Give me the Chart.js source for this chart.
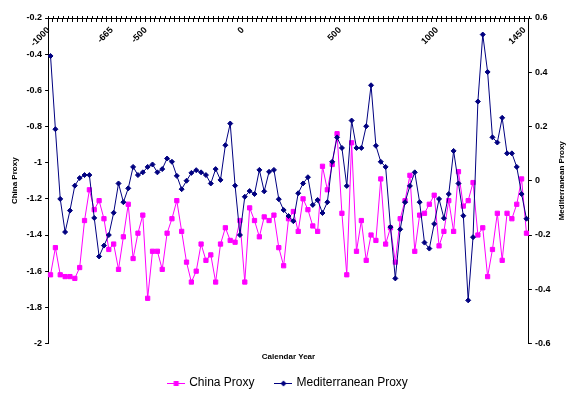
<!DOCTYPE html>
<html>
<head>
<meta charset="utf-8">
<script src="https://cdn.jsdelivr.net/npm/chart.js@4/dist/chart.umd.min.js"></script>
<style>
  body { margin: 0; background: #fff; }
</style>
</head>
<body>
<canvas id="chart" width="576" height="395"></canvas>
<script>
// calendar years of the samples (category axis)
const YEARS = [
  -1000, -975, -950, -925, -900, -875, -850, -825, -800, -775,
  -750, -725, -700, -665, -650, -625, -600, -575, -550, -525,
  -500, -475, -450, -425, -400, -375, -350, -325, -300, -275,
  -250, -225, -200, -175, -150, -125, -100, -75, -50, -25,
  0, 25, 50, 75, 100, 125, 150, 175, 200, 225,
  250, 275, 300, 325, 350, 375, 400, 425, 450, 475,
  500, 525, 550, 575, 600, 625, 650, 675, 700, 725,
  750, 775, 800, 825, 850, 875, 900, 925, 950, 975,
  1000, 1025, 1050, 1075, 1100, 1125, 1150, 1175, 1200, 1225,
  1250, 1275, 1300, 1325, 1350, 1375, 1400, 1425, 1450
];
// years that get a tick label
const SHOWN_YEARS = [-1000, -665, -500, 0, 500, 1000, 1450];

// left axis
const CHINA = [
  -1.62, -1.47, -1.62, -1.63, -1.63, -1.64, -1.58, -1.32, -1.15, -1.26,
  -1.21, -1.31, -1.48, -1.45, -1.59, -1.41, -1.23, -1.53, -1.39, -1.29,
  -1.75, -1.49, -1.49, -1.59, -1.39, -1.31, -1.21, -1.38, -1.55, -1.66,
  -1.60, -1.45, -1.54, -1.51, -1.66, -1.45, -1.36, -1.43, -1.44, -1.32,
  -1.66, -1.25, -1.32, -1.41, -1.30, -1.32, -1.29, -1.47, -1.57, -1.31,
  -1.27, -1.38, -1.20, -1.26, -1.35, -1.38, -1.02, -1.15, -1.01, -0.84,
  -1.28, -1.62, -0.89, -1.49, -1.32, -1.54, -1.40, -1.43, -1.09, -1.45,
  -1.36, -1.55, -1.31, -1.21, -1.07, -1.49, -1.29, -1.28, -1.23, -1.18,
  -1.46, -1.38, -1.21, -1.38, -1.05, -1.24, -1.21, -1.11, -1.40, -1.36,
  -1.63, -1.48, -1.28, -1.54, -1.28, -1.31, -1.23, -1.09, -1.39
];
// right axis
const MEDITERRANEAN = [
  0.46, 0.19, -0.067, -0.189, -0.11, -0.018, 0.01, 0.021, 0.021, -0.137,
  -0.279, -0.239, -0.2, -0.118, -0.01, -0.079, -0.028, 0.051, 0.021, 0.031,
  0.051, 0.06, 0.031, 0.043, 0.082, 0.07, 0.018, -0.031, 0, 0.029,
  0.039, 0.031, 0.021, -0.01, 0.043, 0.003, 0.131, 0.211, -0.018, -0.2,
  -0.059, -0.038, -0.049, 0.04, -0.039, 0.033, 0.04, -0.068, -0.108, -0.13,
  -0.149, -0.046, -0.01, 0.013, -0.089, -0.071, -0.119, -0.079, 0.07, 0.16,
  0.121, -0.019, 0.222, 0.121, 0.121, 0.201, 0.352, 0.129, 0.07, 0.051,
  -0.171, -0.36, -0.179, -0.079, -0.019, 0.031, -0.079, -0.228, -0.25, -0.159,
  -0.067, -0.138, -0.049, 0.11, -0.01, -0.129, -0.441, -0.208, 0.292, 0.539,
  0.401, 0.16, 0.141, 0.232, 0.101, 0.101, 0.051, -0.049, -0.14
];

const MAGENTA = "#ff00ff";
const NAVY = "#000080";
const FAMILY = "'Liberation Sans', Arial, sans-serif";
const tickFont = { family: FAMILY, size: 9, weight: "bold" };
const titleFont = { family: FAMILY, size: 8, weight: "bold" };

Chart.defaults.font.family = FAMILY;
Chart.defaults.color = "#000";

// legend samples: short line with the marker in the middle
function legendIcon(color, diamond) {
  const c = document.createElement("canvas");
  c.width = 18;
  c.height = 8;
  const g = c.getContext("2d");
  g.strokeStyle = color;
  g.fillStyle = color;
  g.lineWidth = 1;
  g.beginPath();
  g.moveTo(0, 4.5);
  g.lineTo(18, 4.5);
  g.stroke();
  g.beginPath();
  if (diamond) {
    g.moveTo(9, 1.5);
    g.lineTo(12, 4.5);
    g.lineTo(9, 7.5);
    g.lineTo(6, 4.5);
    g.closePath();
  } else {
    g.rect(6.5, 2, 5, 5);
  }
  g.fill();
  return c;
}
const LEGEND_ICONS = [legendIcon(MAGENTA, false), legendIcon(NAVY, true)];

// right axis title reads bottom-to-top, and the top axis ticks cross the line
const extras = {
  id: "extras",
  afterDraw(chart) {
    const ctx = chart.ctx;
    const area = chart.chartArea;
    const y1 = chart.scales.y1;
    ctx.save();
    ctx.translate(y1.right - 9, (area.top + area.bottom) / 2);
    ctx.rotate(-Math.PI / 2);
    ctx.font = "bold 8px " + FAMILY;
    ctx.fillStyle = "#000";
    ctx.textAlign = "center";
    ctx.textBaseline = "middle";
    ctx.fillText("Mediterranean Proxy", 0, 0);
    ctx.restore();

    const x = chart.scales.x;
    const step = x.getPixelForValue(1) - x.getPixelForValue(0);
    const top = Math.round(chart.scales.y.getPixelForValue(-0.2));
    ctx.save();
    ctx.strokeStyle = "#000";
    ctx.lineWidth = 1;
    ctx.beginPath();
    for (let i = 0; i <= YEARS.length; i++) {
      const px = Math.round(x.getPixelForValue(0) - step / 2 + i * step) + 0.5;
      ctx.moveTo(px, top - 2);
      ctx.lineTo(px, top);
    }
    ctx.stroke();
    ctx.restore();
  },
};

new Chart(document.getElementById("chart"), {
  type: "line",
  data: {
    labels: YEARS,
    datasets: [
      {
        label: "China Proxy",
        data: CHINA,
        yAxisID: "y",
        borderColor: MAGENTA,
        backgroundColor: MAGENTA,
        borderWidth: 1,
        pointStyle: "rect",
        pointRadius: 3,
        pointBorderWidth: 1,
        tension: 0,
        order: 1,
      },
      {
        label: "Mediterranean Proxy",
        data: MEDITERRANEAN,
        yAxisID: "y1",
        borderColor: NAVY,
        backgroundColor: NAVY,
        borderWidth: 1,
        pointStyle: "rectRot",
        pointRadius: 2.5,
        pointBorderWidth: 1,
        tension: 0,
        order: 0,
      },
    ],
  },
  options: {
    responsive: false,
    animation: false,
    layout: { padding: { left: 6, right: 5, top: 18, bottom: 0 } },
    scales: {
      x: {
        type: "category",
        position: { y: -0.2 },
        offset: true,
        grid: { drawOnChartArea: false, tickLength: 3, color: "#000", offset: true },
        border: { color: "#000" },
        ticks: {
          autoSkip: false,
          minRotation: 45,
          maxRotation: 45,
          padding: 4,
          labelOffset: -2,
          font: tickFont,
          color: "#000",
          callback: (v, i) => (SHOWN_YEARS.includes(YEARS[i]) ? String(YEARS[i]) : ""),
        },
      },
      y: {
        position: "left",
        min: -2,
        max: -0.2,
        grid: { drawOnChartArea: false, tickLength: 3, color: "#000" },
        border: { color: "#000" },
        ticks: {
          stepSize: 0.2,
          padding: 3,
          font: tickFont,
          color: "#000",
          callback: (v) => String(+v.toFixed(1)),
        },
        title: { display: true, text: "China Proxy", font: titleFont, color: "#000", padding: { top: 4, bottom: 4 } },
      },
      y1: {
        position: "right",
        min: -0.6,
        max: 0.6,
        grid: { drawOnChartArea: false, tickLength: 3, color: "#000" },
        border: { color: "#000" },
        ticks: {
          stepSize: 0.2,
          padding: 3,
          font: tickFont,
          color: "#000",
          callback: (v) => String(+v.toFixed(1)),
        },
        // space only, the text is drawn by the extras plugin
        title: { display: true, text: "Mediterranean Proxy", font: titleFont, color: "rgba(0,0,0,0)", padding: { top: 4, bottom: 4 } },
      },
    },
    plugins: {
      tooltip: { enabled: false },
      title: {
        display: true,
        text: "Calendar Year",
        position: "bottom",
        weight: 500,
        font: titleFont,
        color: "#000",
        padding: { top: 8.7, bottom: -6.8 },
      },
      legend: {
        position: "bottom",
        maxHeight: 40,
        labels: {
          usePointStyle: true,
          pointStyleWidth: 14,
          padding: 22,
          font: { family: FAMILY, size: 12 },
          color: "#000",
          generateLabels: (chart) =>
            chart.data.datasets.map((ds, i) => ({
              text: ds.label,
              pointStyle: LEGEND_ICONS[i],
              fillStyle: ds.borderColor,
              strokeStyle: ds.borderColor,
              lineWidth: 0,
              hidden: false,
              datasetIndex: i,
              fontColor: "#000",
            })),
        },
      },
    },
  },
  plugins: [extras],
});
</script>
</body>
</html>
